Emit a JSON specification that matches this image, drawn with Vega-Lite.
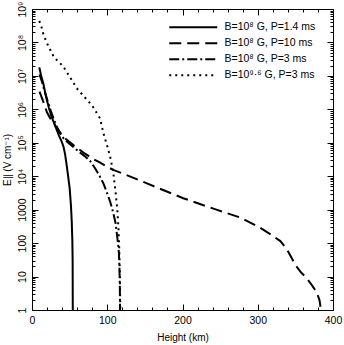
{
  "$schema": "https://vega.github.io/schema/vega-lite/v6.json",
  "width": 301,
  "height": 301,
  "autosize": {"type": "none"},
  "padding": {"left": 32, "top": 9, "right": 11, "bottom": 35},
  "background": "white",
  "config": {
    "view": {"stroke": "black", "strokeWidth": 1},
    "font": "Liberation Sans",
    "axis": {"grid": false, "domainColor": "black", "tickColor": "black", "labelColor": "black", "titleColor": "black", "tickWidth": 1, "domainWidth": 1}
  },
  "data": {
    "values": [
      {"s": "B=10⁸ G, P=1.4 ms", "h": 9.7, "e": 18000000},
      {"s": "B=10⁸ G, P=1.4 ms", "h": 12, "e": 10500000},
      {"s": "B=10⁸ G, P=1.4 ms", "h": 15, "e": 6000000},
      {"s": "B=10⁸ G, P=1.4 ms", "h": 17, "e": 3600000},
      {"s": "B=10⁸ G, P=1.4 ms", "h": 19.5, "e": 2000000},
      {"s": "B=10⁸ G, P=1.4 ms", "h": 22.5, "e": 1100000},
      {"s": "B=10⁸ G, P=1.4 ms", "h": 26, "e": 600000},
      {"s": "B=10⁸ G, P=1.4 ms", "h": 30, "e": 360000},
      {"s": "B=10⁸ G, P=1.4 ms", "h": 33, "e": 240000},
      {"s": "B=10⁸ G, P=1.4 ms", "h": 36, "e": 160000},
      {"s": "B=10⁸ G, P=1.4 ms", "h": 39, "e": 115000},
      {"s": "B=10⁸ G, P=1.4 ms", "h": 42, "e": 75000},
      {"s": "B=10⁸ G, P=1.4 ms", "h": 44, "e": 45000},
      {"s": "B=10⁸ G, P=1.4 ms", "h": 46, "e": 22000},
      {"s": "B=10⁸ G, P=1.4 ms", "h": 48, "e": 10000},
      {"s": "B=10⁸ G, P=1.4 ms", "h": 50, "e": 4500},
      {"s": "B=10⁸ G, P=1.4 ms", "h": 51.8, "e": 1300},
      {"s": "B=10⁸ G, P=1.4 ms", "h": 52.8, "e": 450},
      {"s": "B=10⁸ G, P=1.4 ms", "h": 53.6, "e": 120},
      {"s": "B=10⁸ G, P=1.4 ms", "h": 54, "e": 30},
      {"s": "B=10⁸ G, P=1.4 ms", "h": 54.1, "e": 5},
      {"s": "B=10⁸ G, P=1.4 ms", "h": 54.2, "e": 1},

      {"s": "B=10⁸ G, P=10 ms", "h": 10, "e": 3400000},
      {"s": "B=10⁸ G, P=10 ms", "h": 15, "e": 1700000},
      {"s": "B=10⁸ G, P=10 ms", "h": 20, "e": 800000},
      {"s": "B=10⁸ G, P=10 ms", "h": 25, "e": 500000},
      {"s": "B=10⁸ G, P=10 ms", "h": 30, "e": 350000},
      {"s": "B=10⁸ G, P=10 ms", "h": 35, "e": 240000},
      {"s": "B=10⁸ G, P=10 ms", "h": 40, "e": 170000},
      {"s": "B=10⁸ G, P=10 ms", "h": 45, "e": 130000},
      {"s": "B=10⁸ G, P=10 ms", "h": 50, "e": 105000},
      {"s": "B=10⁸ G, P=10 ms", "h": 55, "e": 85000},
      {"s": "B=10⁸ G, P=10 ms", "h": 62, "e": 65000},
      {"s": "B=10⁸ G, P=10 ms", "h": 70, "e": 48000},
      {"s": "B=10⁸ G, P=10 ms", "h": 80, "e": 34000},
      {"s": "B=10⁸ G, P=10 ms", "h": 90, "e": 26000},
      {"s": "B=10⁸ G, P=10 ms", "h": 100, "e": 19000},
      {"s": "B=10⁸ G, P=10 ms", "h": 108, "e": 15500},
      {"s": "B=10⁸ G, P=10 ms", "h": 121, "e": 12000},
      {"s": "B=10⁸ G, P=10 ms", "h": 152, "e": 6200},
      {"s": "B=10⁸ G, P=10 ms", "h": 201, "e": 2200},
      {"s": "B=10⁸ G, P=10 ms", "h": 245, "e": 1000},
      {"s": "B=10⁸ G, P=10 ms", "h": 276, "e": 590},
      {"s": "B=10⁸ G, P=10 ms", "h": 303, "e": 290},
      {"s": "B=10⁸ G, P=10 ms", "h": 321, "e": 160},
      {"s": "B=10⁸ G, P=10 ms", "h": 330, "e": 115},
      {"s": "B=10⁸ G, P=10 ms", "h": 338, "e": 70},
      {"s": "B=10⁸ G, P=10 ms", "h": 344, "e": 40},
      {"s": "B=10⁸ G, P=10 ms", "h": 350, "e": 22},
      {"s": "B=10⁸ G, P=10 ms", "h": 358, "e": 13},
      {"s": "B=10⁸ G, P=10 ms", "h": 365, "e": 9},
      {"s": "B=10⁸ G, P=10 ms", "h": 372, "e": 5.5},
      {"s": "B=10⁸ G, P=10 ms", "h": 378, "e": 3.5},
      {"s": "B=10⁸ G, P=10 ms", "h": 382, "e": 2},
      {"s": "B=10⁸ G, P=10 ms", "h": 384, "e": 1},

      {"s": "B=10⁸ G, P=3 ms", "h": 10, "e": 11000000},
      {"s": "B=10⁸ G, P=3 ms", "h": 13, "e": 7000000},
      {"s": "B=10⁸ G, P=3 ms", "h": 15, "e": 4800000},
      {"s": "B=10⁸ G, P=3 ms", "h": 18, "e": 2800000},
      {"s": "B=10⁸ G, P=3 ms", "h": 21, "e": 1700000},
      {"s": "B=10⁸ G, P=3 ms", "h": 25, "e": 900000},
      {"s": "B=10⁸ G, P=3 ms", "h": 29, "e": 500000},
      {"s": "B=10⁸ G, P=3 ms", "h": 33, "e": 300000},
      {"s": "B=10⁸ G, P=3 ms", "h": 37, "e": 200000},
      {"s": "B=10⁸ G, P=3 ms", "h": 42, "e": 135000},
      {"s": "B=10⁸ G, P=3 ms", "h": 48, "e": 100000},
      {"s": "B=10⁸ G, P=3 ms", "h": 55, "e": 75000},
      {"s": "B=10⁸ G, P=3 ms", "h": 62, "e": 55000},
      {"s": "B=10⁸ G, P=3 ms", "h": 70, "e": 40000},
      {"s": "B=10⁸ G, P=3 ms", "h": 77, "e": 29000},
      {"s": "B=10⁸ G, P=3 ms", "h": 84, "e": 17000},
      {"s": "B=10⁸ G, P=3 ms", "h": 90, "e": 10000},
      {"s": "B=10⁸ G, P=3 ms", "h": 95, "e": 6000},
      {"s": "B=10⁸ G, P=3 ms", "h": 100, "e": 3000},
      {"s": "B=10⁸ G, P=3 ms", "h": 104, "e": 1700},
      {"s": "B=10⁸ G, P=3 ms", "h": 108, "e": 800},
      {"s": "B=10⁸ G, P=3 ms", "h": 111, "e": 400},
      {"s": "B=10⁸ G, P=3 ms", "h": 113, "e": 170},
      {"s": "B=10⁸ G, P=3 ms", "h": 114.5, "e": 90},
      {"s": "B=10⁸ G, P=3 ms", "h": 115.5, "e": 50},
      {"s": "B=10⁸ G, P=3 ms", "h": 116.3, "e": 15},
      {"s": "B=10⁸ G, P=3 ms", "h": 116.8, "e": 4},
      {"s": "B=10⁸ G, P=3 ms", "h": 117, "e": 1},

      {"s": "B=10⁹·⁶ G, P=3 ms", "h": 9.7, "e": 440000000},
      {"s": "B=10⁹·⁶ G, P=3 ms", "h": 12.9, "e": 275000000},
      {"s": "B=10⁹·⁶ G, P=3 ms", "h": 15, "e": 180000000},
      {"s": "B=10⁹·⁶ G, P=3 ms", "h": 18.2, "e": 117000000},
      {"s": "B=10⁹·⁶ G, P=3 ms", "h": 21.7, "e": 78000000},
      {"s": "B=10⁹·⁶ G, P=3 ms", "h": 25.7, "e": 52000000},
      {"s": "B=10⁹·⁶ G, P=3 ms", "h": 29.2, "e": 36000000},
      {"s": "B=10⁹·⁶ G, P=3 ms", "h": 35, "e": 27000000},
      {"s": "B=10⁹·⁶ G, P=3 ms", "h": 41.6, "e": 19000000},
      {"s": "B=10⁹·⁶ G, P=3 ms", "h": 50, "e": 9500000},
      {"s": "B=10⁹·⁶ G, P=3 ms", "h": 59.4, "e": 4300000},
      {"s": "B=10⁹·⁶ G, P=3 ms", "h": 70, "e": 2300000},
      {"s": "B=10⁹·⁶ G, P=3 ms", "h": 79.3, "e": 1350000},
      {"s": "B=10⁹·⁶ G, P=3 ms", "h": 85, "e": 850000},
      {"s": "B=10⁹·⁶ G, P=3 ms", "h": 90.4, "e": 540000},
      {"s": "B=10⁹·⁶ G, P=3 ms", "h": 95, "e": 190000},
      {"s": "B=10⁹·⁶ G, P=3 ms", "h": 100, "e": 80000},
      {"s": "B=10⁹·⁶ G, P=3 ms", "h": 104, "e": 37000},
      {"s": "B=10⁹·⁶ G, P=3 ms", "h": 108, "e": 13000},
      {"s": "B=10⁹·⁶ G, P=3 ms", "h": 111, "e": 3500},
      {"s": "B=10⁹·⁶ G, P=3 ms", "h": 113.4, "e": 1000},
      {"s": "B=10⁹·⁶ G, P=3 ms", "h": 115, "e": 250},
      {"s": "B=10⁹·⁶ G, P=3 ms", "h": 116, "e": 60},
      {"s": "B=10⁹·⁶ G, P=3 ms", "h": 116.8, "e": 10},
      {"s": "B=10⁹·⁶ G, P=3 ms", "h": 117.3, "e": 1}
    ]
  },
  "layer": [
    {
      "mark": {"type": "line", "strokeWidth": 2, "strokeCap": "butt", "color": "black", "clip": true},
      "encoding": {
        "x": {
          "field": "h", "type": "quantitative",
          "scale": {"domain": [0, 400], "nice": false, "zero": false},
          "axis": {
            "orient": "bottom",
            "values": [0, 20, 40, 60, 80, 100, 120, 140, 160, 180, 200, 220, 240, 260, 280, 300, 320, 340, 360, 380, 400],
            "labelExpr": "datum.value % 100 == 0 ? datum.label : ''",
            "tickSize": {"condition": {"test": "datum.value % 100 == 0", "value": -6}, "value": -3},
            "labelFlush": false,
            "labelOverlap": false,
            "labelFontSize": 10.5,
            "labelPadding": 11,
            "title": "Height (km)",
            "titleFontSize": 10,
            "titleFontWeight": "normal",
            "titlePadding": 4
          }
        },
        "y": {
          "field": "e", "type": "quantitative",
          "scale": {"type": "log", "domain": [1, 1000000000], "nice": false},
          "axis": {
            "orient": "left",
            "values": [1,2,3,4,5,6,7,8,9,10,20,30,40,50,60,70,80,90,100,200,300,400,500,600,700,800,900,1000,2000,3000,4000,5000,6000,7000,8000,9000,10000,20000,30000,40000,50000,60000,70000,80000,90000,100000,200000,300000,400000,500000,600000,700000,800000,900000,1000000,2000000,3000000,4000000,5000000,6000000,7000000,8000000,9000000,10000000,20000000,30000000,40000000,50000000,60000000,70000000,80000000,90000000,100000000,200000000,300000000,400000000,500000000,600000000,700000000,800000000,900000000,1000000000],
            "labelExpr": "abs(log(datum.value)/LN10 - round(log(datum.value)/LN10)) > 0.001 ? '' : (datum.value < 10000 ? format(datum.value, 'd') : '10' + substring('⁰¹²³⁴⁵⁶⁷⁸⁹', round(log(datum.value)/LN10), round(log(datum.value)/LN10) + 1))",
            "tickSize": {"condition": {"test": "abs(log(datum.value)/LN10 - round(log(datum.value)/LN10)) < 0.001", "value": -6}, "value": -3},
            "labelAngle": -90,
            "labelAlign": "center",
            "labelBaseline": "bottom",
            "labelOverlap": false,
            "labelFontSize": 10.5,
            "labelPadding": 11,
            "title": "E∥ (V cm⁻¹)",
            "titleFontSize": 10,
            "titleFontWeight": "normal",
            "titlePadding": 2
          }
        },
        "strokeDash": {
          "field": "s", "type": "nominal",
          "scale": {
            "domain": ["B=10⁸ G, P=1.4 ms", "B=10⁸ G, P=10 ms", "B=10⁸ G, P=3 ms", "B=10⁹·⁶ G, P=3 ms"],
            "range": [[1, 0], [12, 6], [10, 3, 2, 3], [2, 4]]
          },
          "legend": {
            "orient": "none",
            "legendX": 156,
            "legendY": 13,
            "title": null,
            "symbolType": "M-8,0H8",
            "symbolSize": 36,
            "symbolStrokeWidth": 2,
            "symbolStrokeColor": "black",
            "symbolFillColor": "transparent",
            "labelFontSize": 10.5,
            "labelColor": "black",
            "labelOffset": 26,
            "rowPadding": 5,
            "padding": 0
          }
        }
      }
    },
    {
      "mark": {"type": "line", "strokeOpacity": 0},
      "encoding": {
        "x": {
          "field": "h", "type": "quantitative",
          "axis": {
            "orient": "top",
            "values": [0, 20, 40, 60, 80, 100, 120, 140, 160, 180, 200, 220, 240, 260, 280, 300, 320, 340, 360, 380, 400],
            "labels": false,
            "domain": false,
            "title": null,
            "tickSize": {"condition": {"test": "datum.value % 100 == 0", "value": -6}, "value": -3}
          }
        },
        "y": {
          "field": "e", "type": "quantitative",
          "axis": {
            "orient": "right",
            "values": [1,2,3,4,5,6,7,8,9,10,20,30,40,50,60,70,80,90,100,200,300,400,500,600,700,800,900,1000,2000,3000,4000,5000,6000,7000,8000,9000,10000,20000,30000,40000,50000,60000,70000,80000,90000,100000,200000,300000,400000,500000,600000,700000,800000,900000,1000000,2000000,3000000,4000000,5000000,6000000,7000000,8000000,9000000,10000000,20000000,30000000,40000000,50000000,60000000,70000000,80000000,90000000,100000000,200000000,300000000,400000000,500000000,600000000,700000000,800000000,900000000,1000000000],
            "labels": false,
            "domain": false,
            "title": null,
            "tickSize": {"condition": {"test": "abs(log(datum.value)/LN10 - round(log(datum.value)/LN10)) < 0.001", "value": -6}, "value": -3}
          }
        },
        "detail": {"field": "s", "type": "nominal"}
      }
    }
  ],
  "resolve": {"axis": {"x": "independent", "y": "independent"}}
}
